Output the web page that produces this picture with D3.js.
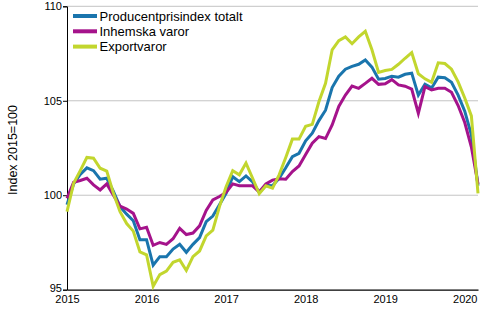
<!DOCTYPE html>
<html>
<head>
<meta charset="utf-8">
<script src="https://cdn.jsdelivr.net/npm/d3@7"></script>
<style>
  html, body { margin: 0; padding: 0; background: #fff; }
  svg { display: block; font-family: "Liberation Sans", Arial, sans-serif; }
</style>
</head>
<body>
<svg id="chart" width="500" height="330"></svg>
<script>
// Monthly producer price indices, Jan 2015 – Mar 2020 (2015 = 100)
const startYear = 2015;
const yearTicks = [2015, 2016, 2017, 2018, 2019, 2020];
const yTicks = [95, 100, 105, 110];

const seriesNames = ["Producentprisindex totalt", "Inhemska varor", "Exportvaror"];
const seriesColors = ["#1a75ad", "#a5138b", "#c2d62e"];

const totalt = [
  99.5, 100.6, 101.1, 101.45, 101.3, 100.85, 100.9, 100.2, 99.4, 99.0, 98.65, 97.65,
  97.65, 96.3, 96.75, 96.75, 97.15, 97.4, 96.98, 97.4, 97.76, 98.6, 98.9, 99.5,
  100.1, 100.98, 100.72, 101.02, 100.7, 100.15, 100.52, 100.5, 100.9, 101.45, 102.04, 102.22,
  102.88, 103.28, 103.95, 104.5, 105.7, 106.3, 106.67, 106.82, 106.93, 107.16, 106.78, 106.14,
  106.18, 106.3, 106.25, 106.4, 106.46, 105.3, 105.87, 105.68, 106.25, 106.22, 105.98, 105.3,
  104.45, 103.2, 100.5
];
const inhemska = [
  99.84, 100.69, 100.78, 100.9, 100.55, 100.28, 100.6, 100.0, 99.43, 99.27, 99.04, 98.22,
  98.3, 97.35, 97.5, 97.4, 97.7, 98.25, 97.92, 98.0, 98.38, 99.2, 99.75, 99.93,
  100.15, 100.6, 100.5, 100.5, 100.5, 100.17, 100.6, 100.8, 100.87, 100.85, 101.25, 101.55,
  102.15, 102.75, 103.1, 103.0, 103.72, 104.7, 105.3, 105.78, 105.66, 105.92, 106.19, 105.87,
  105.9, 106.12, 105.84, 105.77, 105.62, 104.34, 105.75, 105.57, 105.66, 105.66, 105.45, 104.75,
  103.85, 102.55, 100.6
];
const export_ = [
  99.13, 100.63, 101.3, 102.0, 101.96, 101.43, 101.28, 100.1, 99.13, 98.5, 98.1, 97.0,
  96.85, 95.18, 95.8, 95.98, 96.45, 96.58, 96.02, 96.75, 97.05, 97.85, 98.15, 99.4,
  100.45, 101.3, 101.08, 101.7, 100.9, 100.08, 100.5, 100.38, 101.08, 102.0, 102.97, 102.97,
  103.65, 103.75, 104.95, 105.92, 107.7, 108.18, 108.38, 108.02, 108.38, 108.68, 107.7, 106.5,
  106.6, 106.66, 106.93, 107.25, 107.55, 106.43, 106.16, 105.98, 107.01, 106.97, 106.67, 106.0,
  105.15, 104.2, 100.1
];
const seriesValues = [totalt, inhemska, export_];

const svg = d3.select("#chart");
const margin = { left: 67, right: 22, top: 6.3, bottom: 40.3 };
const W = 500, H = 330;

// x in fractional years from Jan 2015
const nMonths = totalt.length;
const x = d3.scaleLinear()
  .domain([startYear, startYear + (nMonths - 1) / 12])
  .range([margin.left, W - margin.right]);
const y = d3.scaleLinear()
  .domain([95, 110])
  .range([H - margin.bottom, margin.top]);

// horizontal grid
svg.append("g")
  .selectAll("line")
  .data(yTicks.filter(d => d !== 95))
  .join("line")
  .attr("x1", margin.left).attr("x2", W - margin.right)
  .attr("y1", d => y(d)).attr("y2", d => y(d))
  .attr("stroke", "#c4c4c4").attr("stroke-width", 1);

// y axis
const yAxis = svg.append("g")
  .attr("transform", `translate(${margin.left},0)`)
  .call(d3.axisLeft(y).tickValues(yTicks).tickSize(4).tickPadding(1).tickFormat(d3.format("d")));
yAxis.select(".domain").attr("stroke", "#000");
yAxis.selectAll(".tick line").attr("stroke", "#000");
yAxis.selectAll("text").attr("font-size", 11).attr("fill", "#000")
  .attr("font-family", "'Liberation Sans', Arial, sans-serif");
// lift the bottom label a touch so it clears the year labels
yAxis.selectAll(".tick").filter(d => d === 95).select("text").attr("dy", "0.2em");

// x axis
const xAxis = svg.append("g")
  .attr("transform", `translate(0,${y(95)})`)
  .call(d3.axisBottom(x).tickValues(yearTicks).tickSize(0).tickPadding(6).tickFormat(d3.format("d")));
xAxis.select(".domain").attr("stroke", "#000").attr("stroke-width", 1.2);
xAxis.selectAll("text").attr("font-size", 11).attr("fill", "#000")
  .attr("font-family", "'Liberation Sans', Arial, sans-serif");

// y axis title
svg.append("text")
  .attr("transform", `translate(17,${(y(95) + y(110)) / 2 + 2}) rotate(-90)`)
  .attr("text-anchor", "middle")
  .attr("font-size", 12.5)
  .text("Index 2015=100");

// series lines
const line = d3.line()
  .x((d, i) => x(startYear + i / 12))
  .y(d => y(d));

svg.append("g")
  .selectAll("path")
  .data(seriesValues)
  .join("path")
  .attr("d", d => line(d))
  .attr("fill", "none")
  .attr("stroke", (d, i) => seriesColors[i])
  .attr("stroke-width", 3)
  .attr("stroke-linejoin", "miter");

// legend
const legend = svg.append("g").attr("transform", "translate(73,16)");
const rows = legend.selectAll("g")
  .data(seriesNames)
  .join("g")
  .attr("transform", (d, i) => `translate(0,${i * 15.3})`);
rows.append("line")
  .attr("x1", 0).attr("x2", 24)
  .attr("stroke", (d, i) => seriesColors[i])
  .attr("stroke-width", 4);
rows.append("text")
  .attr("x", 26.5).attr("dy", "0.36em")
  .attr("font-size", 13)
  .attr("fill", "#000")
  .text(d => d);
</script>
</body>
</html>
